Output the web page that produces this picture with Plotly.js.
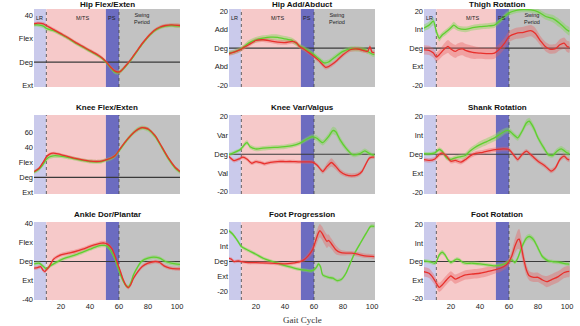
<!DOCTYPE html>
<html><head><meta charset="utf-8">
<script src="https://cdn.plot.ly/plotly-3.0.1.min.js"></script>
<style>html,body{margin:0;padding:0;background:#fff}#chart{width:580px;height:326px}</style>
</head><body><div id="chart"></div>
<script>
// ---------- Data (gait cycle %, degrees) ----------
const titles = ["Hip Flex/Exten","Hip Add/Abduct","Thigh Rotation","Knee Flex/Exten","Knee Var/Valgus","Shank Rotation","Ankle Dor/Plantar","Foot Progression","Foot Rotation"];
const xTickVals = [20,40,60,80,100];
const phaseBounds = [10,51,60];
const phaseLabels = ["LR","M/TS","PS","Swing<br>Period"];

// Hip Flex/Exten
const hipFlexX = [1.6,4,8,10,15,20,25,30,35,40,45,48,51,54,57,59,61,64,68,72,76,80,84,88,92,96,102];
const hipFlexRed = [33,33.5,33,31.5,28,24.5,21,17,13.5,10,6.5,4,0.5,-4,-7.5,-8.5,-8,-4,2,9,16,22,27,30,31.5,32,31.5];
const hipFlexGreen = [32,32,31,29,27,24,20.5,16.5,13,9.5,6,3.5,0,-4.5,-8.5,-9,-8,-4.5,1.5,8.5,15.5,21.5,26.5,29.5,31,31.5,31];
const hipFlexSdRed = [1.5,1.5,1.5,1.5,1.5,1.5,1.5,1.5,1.5,1.5,1.5,1.5,1.5,1.5,1.5,1.5,1.5,1.5,1.5,1.5,1.5,1.5,1.5,1.5,1.5,1.5,1.5];
const hipFlexSdGreen = [1.5,1.5,1.8,1.8,1.5,1.5,1.5,1.5,1.5,1.5,1.5,1.5,1.5,1.5,1.8,1.8,1.8,1.5,1.5,1.5,1.5,1.5,1.5,1.5,1.5,1.5,1.5];

// Hip Add/Abduct
const hipAddXRed = [1,5,9,12,15,20,25,30,35,40,45,48,50,53,57,60,63,66,68,70,73,76,80,85,90,95,97,98.5,100,101.5];
const hipAddRed = [-3.2,-2.2,-1,0.5,1.8,4.1,4.5,3.9,3.2,3,3.6,2.8,0.9,-0.5,-2.7,-4.5,-6.5,-9,-10.4,-10,-8.5,-6.5,-3.6,-0.9,-0.5,-1.5,-1.8,0.8,-2.3,-2.5];
const hipAddSdRed = [1.2,1.2,1.2,1.2,1.2,1.2,1.2,1.2,1.2,1.2,1.2,1.2,1.2,1.2,1.2,1.2,1.2,1.2,1.2,1.2,1.2,1.2,1.2,1.2,1.2,1.2,1.2,1.2,1.2,1.2];
const hipAddXGreen = [1,5,9,12,15,20,25,30,35,40,45,50,53,57,60,64,67,70,75,80,85,90,95,100,101.5];
const hipAddGreen = [-2.7,-2,-0.8,0.8,2.7,4.5,5.4,5.9,5.8,5,4.1,1.2,0,-1.8,-3.6,-6.2,-8,-7.5,-4.5,-1.8,-0.4,-0.5,-1,-3.2,-3.5];
const hipAddSdGreen = [1.3,1.3,1.3,1.3,1.5,1.5,1.5,1.5,1.5,1.5,1.5,1.3,1.3,1.3,1.3,1.3,1.3,1.3,1.3,1.3,1.3,1.3,1.3,1.3,1.3];

// Thigh Rotation
const thighXGreen = [1,5,8,10,12,14,17,20,22,25,30,35,40,45,50,53,57,60,65,70,75,80,85,90,95,100,101.5];
const thighGreen = [10.7,12.4,14.5,8.9,5.3,7.1,8.9,11,12.4,10.7,10.1,11,11.6,11.9,12.4,14.2,17.2,19,20.4,20.8,20.6,19.6,17.2,16,13.3,9.8,9];
const thighSdGreen = [1.8,2,2.2,2,1.8,1.5,1.5,1.5,1.8,1.5,1.5,1.5,1.5,1.5,1.5,1.5,1.5,1.5,1.5,1.5,1.5,1.5,1.8,2,2.2,2.2,2.2];
const thighXRed = [1,5,8,10,12,15,18,20,23,25,28,30,35,40,45,50,53,57,60,65,70,75,78,82,85,88,92,95,98,100,101.5];
const thighRed = [-0.9,-1.2,-2.7,-4.8,-3.6,-0.9,0.9,-0.5,-1.8,-0.9,-0.4,-1.2,-2.3,-2.7,-3,-2.7,-0.9,2.7,6.2,8,8.5,9.4,8,3.6,0.9,-0.5,-0.3,1.8,2.7,0.9,0.5];
const thighSdRed = [2.5,2.5,2.5,2.5,2.5,3,3.5,3.5,3.5,3.5,3.5,3.5,3.5,3,3,3,3,3,3,3,3,3,3,2.5,2.5,2.5,2.5,3,3,3,3];

// Knee Flex/Exten
const kneeFlexX = [1.6,5,8,10,12,14.7,18,22,26,30,35,40,44.7,48,51.6,55,57.4,60.8,65.4,70,73,75.8,78,80.4,85,89.6,94.2,98.8,102];
const kneeFlexRed = [7.7,12,20.6,27,30.5,32,31,29,27,25,23,21.5,21,21.5,23.6,26,29,38,49.5,59,63.5,65.8,65.3,63.7,55,40,25,13,7.7];
const kneeFlexGreen = [7,11,18,24,27,28.5,28.5,27.5,26,24.5,22.5,21,20.5,21,23,25.5,28.5,37,49,59,63.5,65.5,65,63,54,39,24,12,7];
const kneeFlexSdRed = [2,2,2,2,2,2,2,2,2,2,2,2,2,2,2,2,2,2,2,2,2,2,2,2,2,2,2,2,2];
const kneeFlexSdGreen = [2.5,2.5,3,3,3,3,3,2.5,2.5,2.5,2.5,2.5,2.5,2.5,2.5,2.5,2.5,2.5,3,3,3,3,3,3,3,3,3,2.5,2.5];

// Knee Var/Valgus
const kneeVarXGreen = [1,5,9,11,13,14,16,20,25,30,35,40,45,50,55,59,62,66,70,73,75,78,82,86,88,92,95,98,100,101.5];
const kneeVarGreen = [-0.4,0.9,2.3,4,5.8,6.2,4,2.8,3.2,3.5,3.7,4,4.6,5.8,8,9.4,8.5,6.2,9.4,12.6,12,7.6,3.2,0,-0.4,0.5,1.8,0.5,-0.4,-0.5];
const kneeVarSdGreen = [1,1,1,1.2,1.2,1.2,1.2,1.2,1.2,1.2,1.2,1.2,1.2,1.2,1.2,1.2,1.5,1.5,1.8,2,2,1.8,1.5,1.2,1.2,1.2,1.2,1.2,1,1];
const kneeVarXRed = [1,5,9,11,14,17,20,23,26,30,35,40,45,50,55,59,62,66,69,72,75,78,82,86,90,93,96,98,100,101.5];
const kneeVarRed = [-0.9,-3.4,-2.3,-1.6,-2.7,-4.8,-3.9,-4.4,-5.1,-4.4,-3.9,-3.9,-3.9,-4.1,-4.1,-4.2,-5.7,-9.2,-6.5,-4.4,-6.5,-9.2,-11,-11.5,-11,-9.2,-4.8,-2.1,-1.6,-1.5];
const kneeVarSdRed = [1,1,1,1,1,1,1,1,1,1,1,1,1,1,1,1,1,1.2,1.8,2.2,1.8,1.5,1.2,1.2,1.2,1.2,1,1,1,1];

// Shank Rotation
const shankXGreen = [1,5,9,12,14,17,20,23,26,30,33,36,40,45,50,55,58,60,63,66,69,72,74,77,80,84,87,90,93,96,100,101.5];
const shankGreen = [0.4,0.2,0.7,2.5,1.6,-1.9,-2.8,-1.9,-1.4,-0.7,1.6,3.3,5.1,6.8,8.6,11.2,12.5,12.5,10.4,8.6,12.1,16.5,17.4,13.9,8.6,3.3,-0.2,-0.7,1.6,2.8,0.7,0.3];
const shankSdGreen = [1,1,1,1.2,1.2,1.2,1.2,1.2,1.2,1.5,1.5,1.5,1.8,1.8,1.8,1.8,1.5,1.5,1.5,1.5,1.5,1.8,1.8,1.8,1.5,1.5,1.2,1.2,1.5,1.5,1.5,1.5];
const shankXRed = [1,5,9,12,14,17,20,23,27,30,33,37,42,47,52,56,60,63,66,69,72,76,80,85,89,92,95,98,100,101.5];
const shankRed = [-2.8,-3.3,-2.5,-0.2,0.7,-1,-3.7,-3.3,-4.2,-2.8,-1,0.4,1,1.9,2.5,2.8,2.5,-0.2,-2.8,-0.2,1.6,-1,-3.7,-6.3,-8.9,-7.2,-2.8,-1,-2.5,-3];
const shankSdRed = [1.2,1.2,1.2,1.2,1.2,1.2,1.2,1.2,1.2,1.2,1.2,1.2,1.2,1.2,1.2,1.2,1.2,1.2,1.2,1.2,1.2,1.2,1.2,1.2,1.2,1.2,1.2,1.2,1.2,1.2];

// Ankle Dor/Plantar
const ankleXRed = [1.6,4,6,8,9,10,12,15,20,25,30,35,40,45,48,50,52,55,57,59,61,63,65,66.5,68,70,73,76,80,85,88,91,95,100,102];
const ankleRed = [-7,-6.4,-5.3,-9.6,-10.6,-8.8,-5.3,2.5,7,8.8,10.6,13,16,18.4,19.5,19.5,18.4,14,7,-1.8,-10.6,-19.5,-25.8,-27.6,-24.8,-17.7,-10.6,-5.3,-1.8,0,-1,-4.6,-7,-7.8,-7.8];
const ankleSdRed = [2,2,2,2,2,2,2,2,2,2,2,2,2,2,2.5,2.5,2.5,2,2,2,2,2,2,2,2,2,2,2,2,2,2,2,2,2,2];
const ankleXGreen = [1.6,5,8,10,12,15,20,25,30,35,40,45,48,50,52,54,57,59,61,63,65,66.5,68,70,73,76,80,84,88,92,96,100,102];
const ankleGreen = [-2.5,-1.8,-5.3,-8,-5.3,-2.5,1.8,4.6,7,10,13,16,17,17,16,12.4,3.5,-5.3,-14,-21,-25.8,-27,-23,-14,-5.3,0.7,3.5,4.6,3.5,0,-1.8,-2.8,-3];
const ankleSdGreen = [2,2,2,2,2,2,2,2,2,2,2,2,2,2,2,2,2,2,2,2,2,2,2,2,2,2,2,2,2,2,2,2,2];

// Foot Progression
const footProgXGreen = [1,4,7,10,15,20,25,30,35,40,45,50,55,58,60,62,63,64.5,66,70,73,76,79,82,85,88,92,96,99,101.5];
const footProgGreen = [20.9,18.5,14.5,10.1,7.4,4.9,2.2,0.4,-1.1,-2.7,-4,-5.2,-6,-6.3,-5.6,-3.4,-1.6,-3.4,-9,-10.6,-11.2,-12.8,-11.9,-7.9,-1.1,5.6,12.4,19,23.6,23.5];
const footProgSdGreen = [1.2,1.2,1.2,1.2,1.2,1.2,1.2,1.2,1.2,1.2,1.2,1.2,1.2,1.2,1.2,1.2,1.2,1.2,1.2,1.2,1.2,1.2,1.2,1.2,1.2,1.2,1.2,1.2,1.2,1.2];
const footProgXRed = [1,3,5,8,10,15,20,30,40,45,50,53,56,59,61,63,64,65.5,67,69,70,72,75,78,82,86,90,95,100,101.5];
const footProgRed = [2.2,1.6,0,0.4,0,-0.7,-0.7,-1.1,-1.6,-1.1,-0.2,1.1,3.8,7.9,13.5,19.1,20.7,19.1,16.4,13.5,14.2,11.9,7.9,6.1,5.6,5.6,4.9,3.8,3.4,3.3];
const footProgSdRed = [1.2,1.2,1.2,1.2,1.2,1.2,1.2,1.2,1.2,1.2,1.2,1.5,2,3,4,4.5,4.5,4.5,4.5,4.5,4,3.5,3,2,1.5,1.5,1.5,1.5,1.5,1.5];

// Foot Rotation
const footRotXGreen = [1,5,9,10,12,14,16,18,20,22,24,26,28,30,35,40,45,50,55,58,60,62,64,66,69,72,74,77,80,83,87,90,95,100,101.5];
const footRotGreen = [0.4,0,-0.9,0,3.6,5,3.6,0.9,-0.5,0.4,1.3,0.9,-0.4,-0.9,-0.9,-1.3,-1.8,-2.3,-1.8,-0.9,0.4,0.9,-0.5,1.8,8.1,12.6,13.5,11.7,7.2,2.7,0.4,0,-0.5,-1.3,-1.4];
const footRotSdGreen = [1,1,1,1,1.2,1.2,1.2,1,1,1,1,1,1,1,1,1,1,1,1,1,1,1,1,1.2,1.5,1.5,1.5,1.5,1.5,1.2,1,1,1,1,1];
const footRotXRed = [1,5,8,10,12,14,17,20,23,26,30,35,40,45,50,54,58,60,62,64,66,67,68,70,72,74,77,80,83,86,90,94,98,100,101.5];
const footRotRed = [-5.4,-6.3,-9,-11.7,-13.9,-12.6,-9.9,-7.7,-9.5,-8.5,-7.2,-6.7,-6.3,-5.4,-4.5,-3.6,-1.8,0,3.1,8.1,11.7,12.1,9.9,1.8,-4.5,-7.7,-8.5,-8.5,-9.9,-10.8,-9.5,-8.1,-5.9,-5.4,-5.3];
const footRotSdRed = [2.5,2.5,2.5,2.5,2.5,2.5,2.5,2.5,2.5,2.5,2.5,2.5,2.5,2.5,2,2,2,2,3,4,5,5.5,5,4,3,2.5,2.5,2.5,2.5,3,3,3,3,3,3];

// tick labels
const yTickVals = [
  [40,20,0,-20],[20,10,0,-10,-20],[20,10,0,-10,-20],
  [60,40,20,0,-20],[20,10,0,-10,-20],[20,10,0,-10,-20],
  [40,20,0,-20,-40],[20,10,0,-10,-20],[20,10,0,-10,-20]];
const yTickText = [
  ["40","Flex","Deg","Ext"],["20","Add","Deg","Abd","-20"],["20","Int","Deg","Ext","-20"],
  ["60","40","Flex","Deg","Ext"],["20","Var","Deg","Val","-20"],["20","Int","Deg","Ext","-20"],
  ["40","Flex","Deg","Ext","-40"],["20","Int","Deg","Ext","-20"],["20","Int","Deg","Ext","-20"]];
const yRanges = [[-21.4,45.7],[-21,21.1],[-21,21.1],[-22,82.5],[-21.2,20.9],[-21,20.7],[-40.7,41.8],[-25.8,26.5],[-20.7,21.3]];

// ---------- Build ----------
const panels = [
  {g:[hipFlexX,hipFlexGreen,hipFlexSdGreen], r:[hipFlexX,hipFlexRed,hipFlexSdRed]},
  {g:[hipAddXGreen,hipAddGreen,hipAddSdGreen], r:[hipAddXRed,hipAddRed,hipAddSdRed]},
  {g:[thighXGreen,thighGreen,thighSdGreen], r:[thighXRed,thighRed,thighSdRed]},
  {g:[kneeFlexX,kneeFlexGreen,kneeFlexSdGreen], r:[kneeFlexX,kneeFlexRed,kneeFlexSdRed]},
  {g:[kneeVarXGreen,kneeVarGreen,kneeVarSdGreen], r:[kneeVarXRed,kneeVarRed,kneeVarSdRed]},
  {g:[shankXGreen,shankGreen,shankSdGreen], r:[shankXRed,shankRed,shankSdRed]},
  {g:[ankleXGreen,ankleGreen,ankleSdGreen], r:[ankleXRed,ankleRed,ankleSdRed]},
  {g:[footProgXGreen,footProgGreen,footProgSdGreen], r:[footProgXRed,footProgRed,footProgSdRed]},
  {g:[footRotXGreen,footRotGreen,footRotSdGreen], r:[footRotXRed,footRotRed,footRotSdRed]}
];

const W=580,H=326;
const colPx=[[34,180],[229,375],[424,570]];
const rowPx=[[9,87],[115,194],[222,300]];
const titleCenterPx=[4.5,107,214];
const xRange=[1.5,102];
const GREEN='#5fcf2f', RED='#e8302c';
const GREEN_BAND='rgba(130,215,90,0.45)', RED_BAND='rgba(235,95,95,0.38)';

const data=[], shapes=[], annotations=[];
const layout={width:W,height:H,margin:{l:0,r:0,t:0,b:0},showlegend:false,
  paper_bgcolor:'#fff',plot_bgcolor:'#fff',font:{family:'Liberation Sans, Arial, sans-serif',size:7.5,color:'#222'}};

function band(x,y,sd,color,ax){
  const up=y.map((v,i)=>v+sd[i]), lo=y.map((v,i)=>v-sd[i]);
  return {type:'scatter',mode:'lines',x:x.concat(x.slice().reverse()),y:up.concat(lo.reverse()),
    fill:'toself',fillcolor:color,line:{width:0,shape:'spline',smoothing:0.6},hoverinfo:'skip',xaxis:'x'+ax,yaxis:'y'+ax};
}
function line(x,y,color,ax){
  return {type:'scatter',mode:'lines',x:x,y:y,line:{color:color,width:1.3,shape:'spline',smoothing:0.6},xaxis:'x'+ax,yaxis:'y'+ax};
}

panels.forEach((p,i)=>{
  const r=Math.floor(i/3), c=i%3, ax=i===0?'':String(i+1);
  const xd=[colPx[c][0]/W,colPx[c][1]/W], yd=[(H-rowPx[r][1])/H,(H-rowPx[r][0])/H];
  layout['xaxis'+ax]={domain:xd,range:xRange,anchor:'y'+ax,showgrid:false,zeroline:false,showline:false,ticks:'',
    tickvals:xTickVals,showticklabels:r===2,tickfont:{size:7.5,color:'#222'},fixedrange:true};
  layout['yaxis'+ax]={domain:yd,range:yRanges[i],anchor:'x'+ax,showgrid:false,zeroline:false,showline:false,ticks:'',
    tickvals:yTickVals[i],ticktext:yTickText[i],tickfont:{size:7.5,color:'#222'},fixedrange:true};
  const xr='x'+ax, yr='y'+ax+' domain';
  const regions=[[xRange[0],phaseBounds[0],'#cacaeb'],[phaseBounds[0],phaseBounds[1],'#f6c9c9'],[phaseBounds[1],phaseBounds[2],'#6c6cc0'],[phaseBounds[2],xRange[1],'#c2c2c2']];
  regions.forEach(g=>shapes.push({type:'rect',xref:xr,yref:yr,x0:g[0],x1:g[1],y0:0,y1:1,fillcolor:g[2],line:{width:0},layer:'below'}));
  [phaseBounds[0],phaseBounds[2]].forEach(b=>shapes.push({type:'line',xref:xr,yref:yr,x0:b,x1:b,y0:0,y1:1,line:{color:'#444',width:0.8,dash:'dot'},layer:'below'}));
  shapes.push({type:'line',xref:xr,yref:'y'+ax,x0:xRange[0],x1:xRange[1],y0:0,y1:0,line:{color:'#3a3a3a',width:1.1},layer:'below'});
  data.push(band(p.g[0],p.g[1],p.g[2],GREEN_BAND,ax));
  data.push(band(p.r[0],p.r[1],p.r[2],RED_BAND,ax));
  data.push(line(p.g[0],p.g[1],GREEN,ax));
  data.push(line(p.r[0],p.r[1],RED,ax));
  annotations.push({text:'<b>'+titles[i]+'</b>',xref:'paper',yref:'paper',x:(xd[0]+xd[1])/2,y:(H-titleCenterPx[r])/H,
    xanchor:'center',yanchor:'middle',showarrow:false,font:{size:8,color:'#111'}});
  if(r===0){
    const pos=[[5.5,0.885],[35,0.885],[55.5,0.885],[76,0.88]];
    phaseLabels.forEach((t,k)=>annotations.push({text:t,xref:xr,yref:yr,x:pos[k][0],y:pos[k][1],xanchor:'center',yanchor:'middle',
      showarrow:false,font:{size:5.5,color:'#222'}}));
  }
});
annotations.push({text:'Gait Cycle',xref:'paper',yref:'paper',x:302/W,y:(H-320)/H,xanchor:'center',yanchor:'middle',showarrow:false,
  font:{family:'Liberation Serif, DejaVu Serif, serif',size:9,color:'#333'}});
layout.shapes=shapes; layout.annotations=annotations;
Plotly.newPlot('chart',data,layout,{staticPlot:true,displayModeBar:false});
</script></body></html>
